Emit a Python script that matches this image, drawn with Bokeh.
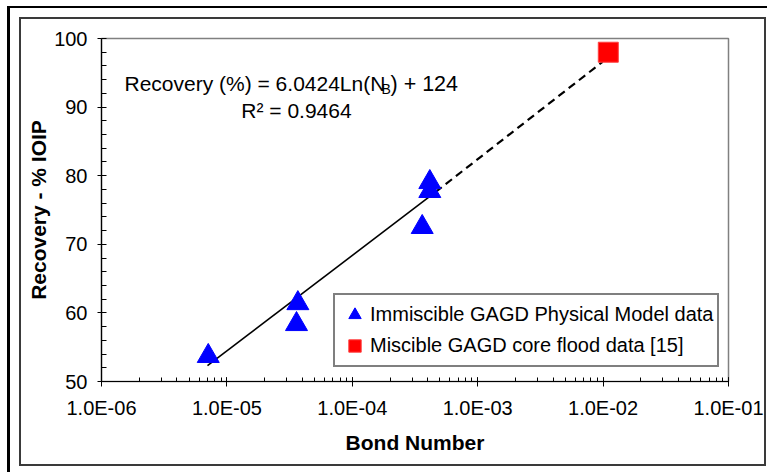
from bokeh.plotting import figure
from bokeh.models import (Range1d, SingleIntervalTicker, LogTicker, CustomJSTickFormatter,
                          Label, Legend, LegendItem, ColumnDataSource)
from bokeh.embed import file_html
from bokeh.resources import INLINE

# ---- data ----
immiscible_nb = [7.1e-6, 3.68e-5, 3.59e-5, 3.61e-4, 4.15e-4, 4.15e-4]
immiscible_rec = [53.7, 61.4, 58.35, 72.5, 79.05, 77.75]

miscible_nb = [1.1e-2]
miscible_rec = [98.0]

fit_solid_nb = [7.0e-6, 4.6e-4]
fit_solid_rec = [52.3, 77.6]
fit_dash_nb = [4.6e-4, 9.9e-3]
fit_dash_rec = [77.6, 96.6]

y_ticks_interval = 10
x_decades = [1e-6, 1e-5, 1e-4, 1e-3, 1e-2, 1e-1]

FONT = "Liberation Sans"

p = figure(width=767, height=472, x_axis_type="log",
           x_range=Range1d(x_decades[0], x_decades[-1]), y_range=Range1d(50, 100),
           output_backend="svg", toolbar_location=None,
           min_border_left=101, min_border_right=39, min_border_top=38, min_border_bottom=91)

p.background_fill_color = "white"
p.border_fill_color = "white"
p.border_fill_alpha = 0
p.outline_line_color = "#808080"
p.outline_line_width = 1.5
p.xgrid.visible = False
p.ygrid.visible = False

# chart-area frames drawn as CSS backgrounds behind the transparent canvas border
layers = [
    "linear-gradient(#000,#000) 7px 6px / 760px 2px no-repeat",
    "linear-gradient(#000,#000) 7px 6px / 3px 466px no-repeat",
    "linear-gradient(#3a3a3a,#3a3a3a) 19px 17px / 747px 2px no-repeat",
    "linear-gradient(#3a3a3a,#3a3a3a) 19px 17px / 2px 449px no-repeat",
    "linear-gradient(#3a3a3a,#3a3a3a) 764px 17px / 2px 449px no-repeat",
    "linear-gradient(#3a3a3a,#3a3a3a) 19px 464px / 747px 2px no-repeat",
]
p.styles = {"background": ", ".join(layers) + ", #ffffff"}

# y axis
yax = p.yaxis[0]
yax.ticker = SingleIntervalTicker(interval=y_ticks_interval, num_minor_ticks=5)
yax.axis_label = "Recovery - % IOIP"
yax.major_tick_out = 4
yax.major_tick_in = 0
yax.minor_tick_out = 0
yax.minor_tick_in = 5
yax.major_label_standoff = 10
yax.axis_label_standoff = 1

# x axis
xax = p.xaxis[0]
xax.ticker = LogTicker(num_minor_ticks=10)
xax.formatter = CustomJSTickFormatter(code="""
const e = Math.round(Math.log10(tick));
const m = tick / Math.pow(10, e);
const s = e < 0 ? '-' : '+';
return m.toFixed(1) + 'E' + s + String(Math.abs(e)).padStart(2, '0');
""")
xax.axis_label = "Bond Number"
xax.major_tick_out = 5
xax.major_tick_in = 4
xax.minor_tick_out = 0
xax.minor_tick_in = 4
xax.major_label_standoff = 10
xax.axis_label_standoff = 9

for ax in (xax, yax):
    ax.axis_line_color = "black"
    ax.axis_line_width = 1.2
    ax.major_tick_line_color = "black"
    ax.minor_tick_line_color = "black"
    ax.major_label_text_font = FONT
    ax.major_label_text_font_size = "20px"
    ax.major_label_text_color = "black"
    ax.axis_label_text_font = FONT
    ax.axis_label_text_font_size = "21px"
    ax.axis_label_text_font_style = "bold"
    ax.axis_label_text_color = "black"

# fit lines
p.line(fit_solid_nb, fit_solid_rec, line_color="black", line_width=1.6)
p.line(fit_dash_nb, fit_dash_rec, line_color="black", line_width=2.2, line_dash="8 5")

src_i = ColumnDataSource(dict(x=immiscible_nb, y=immiscible_rec))
src_m = ColumnDataSource(dict(x=miscible_nb, y=miscible_rec))
r_i = p.scatter("x", "y", source=src_i, marker="triangle", size=22,
                fill_color="#0000FF", line_color="#0000FF")
r_m = p.scatter("x", "y", source=src_m, marker="square", size=20,
                fill_color="#FF0000", line_color="#FF4040")

legend = Legend(items=[
    LegendItem(label="Immiscible GAGD Physical Model data", renderers=[r_i]),
    LegendItem(label="Miscible GAGD core flood data [15]", renderers=[r_m]),
], location=(232, 14), margin=0, padding=4, spacing=0,
   glyph_width=31, glyph_height=31, label_height=31, label_standoff=0,
   label_text_font=FONT, label_text_font_size="20px", label_text_color="black",
   border_line_color="black", border_line_width=2, background_fill_color="white",
   background_fill_alpha=1.0)
p.add_layout(legend, "center")

# equation text
p.add_layout(Label(x=23, y=298, x_units="screen", y_units="screen",
                   text="Recovery (%) = 6.0424Ln(N", text_font=FONT, text_font_size="21px",
                   text_align="left", text_baseline="alphabetic", text_color="black"))
p.add_layout(Label(x=280, y=293, x_units="screen", y_units="screen",
                   text="B", text_font=FONT, text_font_size="14px",
                   text_align="left", text_baseline="alphabetic", text_color="black"))
p.add_layout(Label(x=289, y=298, x_units="screen", y_units="screen",
                   text=") + 124", text_font=FONT, text_font_size="21.5px",
                   text_align="left", text_baseline="alphabetic", text_color="black"))
p.add_layout(Label(x=195, y=271, x_units="screen", y_units="screen",
                   text="R² = 0.9464", text_font=FONT, text_font_size="21px",
                   text_align="center", text_baseline="alphabetic", text_color="black"))

open("out.html", "w").write(file_html(p, INLINE))
